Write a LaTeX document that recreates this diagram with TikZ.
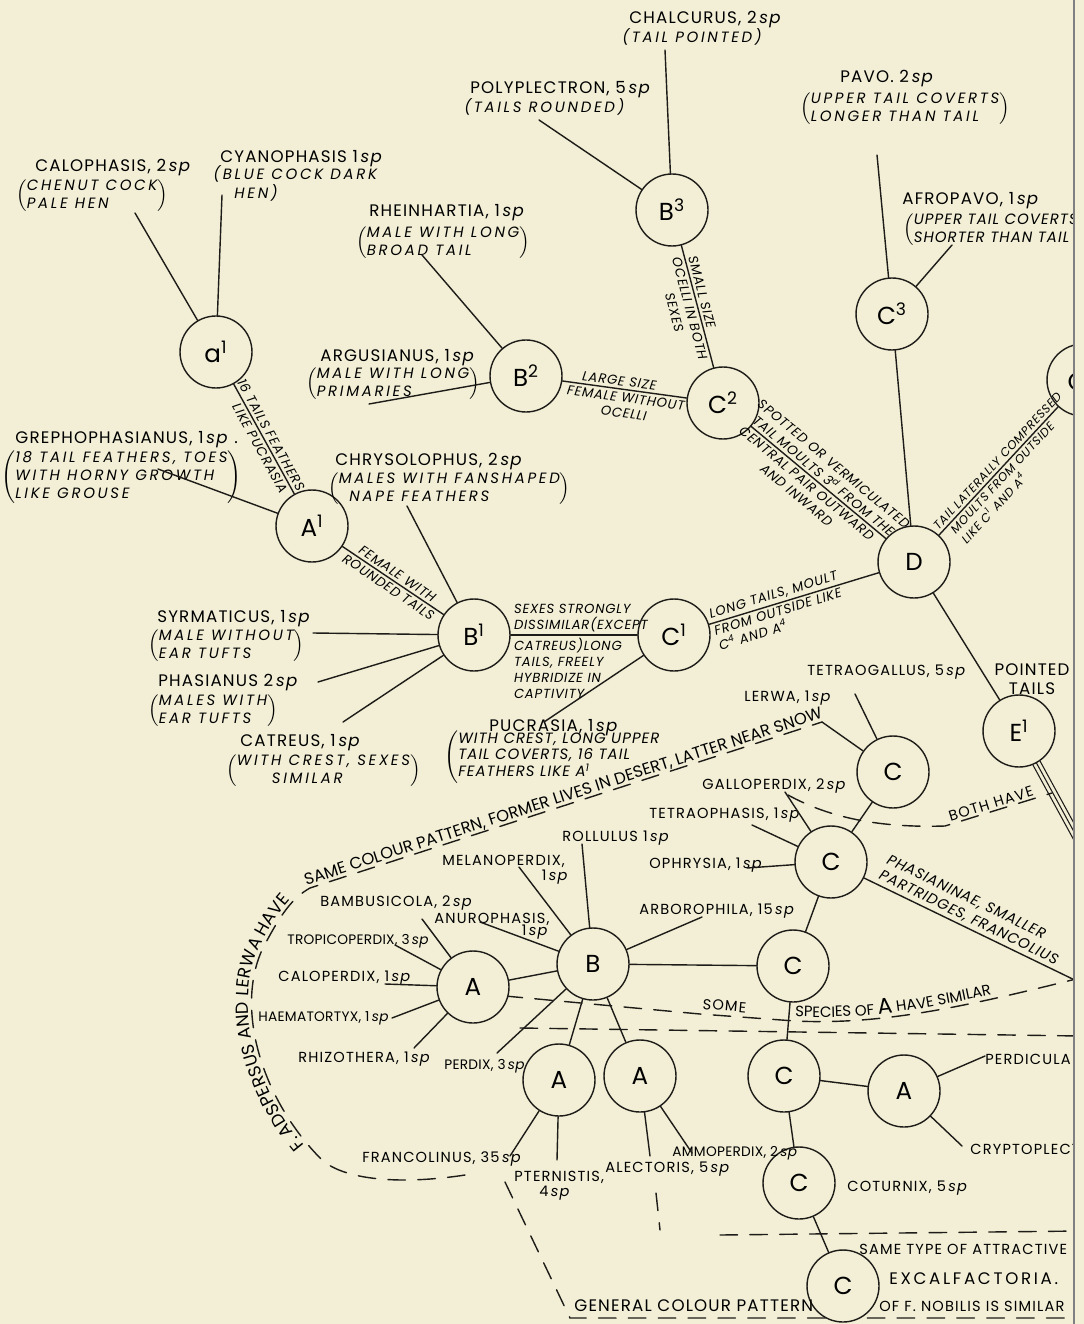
\documentclass[tikz,border=0pt]{standalone}
\usepackage{fontspec}
\setmainfont{Poppins}
\newfontfamily\genusfont{Poppins}[LetterSpace=7]
\newfontfamily\smallgenusfont{Poppins}[LetterSpace=8]
\newfontfamily\tightfont{Poppins}[LetterSpace=2]
\newfontfamily\widefont{Poppins}[LetterSpace=16]
\newfontfamily\descfont{Poppins}[LetterSpace=18]
\newfontfamily\notefont{Poppins}[LetterSpace=6]
\usetikzlibrary{decorations.text}

\definecolor{paper}{RGB}{242,239,214}
\definecolor{ink}{RGB}{30,28,24}

\delimiterfactor=850
\delimitershortfall=3pt
\newcommand{\nsp}[1]{#1\,\textit{sp}}
\newcommand{\paren}[1]{$\left(\begin{tabular}{@{}l@{}}#1\end{tabular}\right)$}
\newcommand{\lparen}[1]{$\left(\begin{tabular}{@{}l@{}}#1\end{tabular}\right.$}

\tikzset{
  taxon/.style={circle,draw=ink,fill=paper,line width=0.8pt,minimum size=1.44cm,inner sep=0pt,
    font=\fontsize{14}{14}\selectfont},
  genus/.style={inner sep=0pt,anchor=base west,font=\genusfont\fontsize{9.5}{11}\selectfont},
  genusS/.style={inner sep=0pt,anchor=base west,font=\smallgenusfont\fontsize{8.3}{9.5}\selectfont},
  genusT/.style={inner sep=0pt,anchor=base west,font=\tightfont\fontsize{7.8}{9.5}\selectfont},
  desc/.style={inner sep=0pt,anchor=west,font=\descfont\itshape\fontsize{8.5}{10}\selectfont},
  note/.style={inner sep=1.5pt,sloped,font=\notefont\itshape\fontsize{7.5}{9}\selectfont},
  link/.style={draw=ink,line width=0.8pt},
  dashline/.style={draw=ink,line width=0.8pt,dash pattern=on 10pt off 7pt},
}

\begin{document}
\begin{tikzpicture}[x=0.02cm,y=-0.02cm,line cap=round]
\useasboundingbox (0,0) rectangle (1084,1324);
\fill[paper] (0,0) rectangle (1084,1324);
\begin{scope}
\clip (0,0) rectangle (1074,1324);

% dashed boundaries and the texts along them
\draw[dashline] (465,1175) .. controls (400,1185) and (345,1180) .. (322,1160)
  .. controls (262,1100) and (235,1010) .. (262,950)
  .. controls (280,915) and (292,898) .. (310,888) -- (822,722);
\path[decorate,decoration={text along path,raise=2pt,text align=center,
  text={|\fontsize{10}{11}\selectfont|F. ADSPERSUS AND LERWA HAVE}}]
  (322,1160) .. controls (262,1100) and (235,1010) .. (262,950)
  .. controls (280,915) and (292,898) .. (310,888);
\path[decorate,decoration={text along path,raise=2pt,text align=center,
  text={|\fontsize{9.3}{11}\selectfont|SAME COLOUR PATTERN, FORMER LIVES IN DESERT, LATTER NEAR SNOW}}]
  (310,888) -- (822,722);
\draw[dashline] (505,996) -- (700,1014) -- (795,1021) .. controls (880,1025) and (960,1008) .. (1080,978);
\path[decorate,decoration={text along path,raise=2.5pt,
  text={|\fontsize{8.5}{10}\selectfont|SPECIES OF |\fontsize{12.5}{12}\selectfont|A|\fontsize{8.5}{10}\selectfont| HAVE SIMILAR}}]
  (795,1021) .. controls (880,1025) and (960,1008) .. (1080,978);
\draw[dashline] (520,1028) -- (1080,1036);
\draw[dashline] (788,795) .. controls (830,818) and (880,828) .. (945,826)
  -- node[genusS,anchor=south,sloped,pos=0.45,inner sep=1pt] {BOTH HAVE} (1052,793);
\draw[dashline] (505,1182) -- (570,1318) -- (1068,1318);
\draw[dashline] (656,1193) -- (660,1230);
\draw[dashline] (720,1235) -- (1080,1231);

% circles
\node[taxon] (a1) at (216,352) {a\textsuperscript{1}};
\node[taxon] (A1) at (312,526) {A\textsuperscript{1}};
\node[taxon] (B1) at (474,635) {B\textsuperscript{1}};
\node[taxon] (B2) at (526,376) {B\textsuperscript{2}};
\node[taxon] (B3) at (672,210) {B\textsuperscript{3}};
\node[taxon] (C1) at (674,635) {C\textsuperscript{1}};
\node[taxon] (C2) at (723,403) {C\textsuperscript{2}};
\node[taxon] (C3) at (892,314) {C\textsuperscript{3}};
\node[taxon] (C4) at (1083,380) {C\textsuperscript{4}};
\node[taxon] (D) at (914,562) {D};
\node[taxon] (E1) at (1019,731) {E\textsuperscript{1}};
\node[taxon] (Cl) at (893,772) {C};
\node[taxon] (Cc) at (831,862) {C};
\node[taxon] (Ca) at (793,966) {C};
\node[taxon] (B) at (593,964) {B};
\node[taxon] (Al) at (473,987) {A};
\node[taxon] (Apt) at (559,1080) {A};
\node[taxon] (Aal) at (640,1076) {A};
\node[taxon] (Cb) at (784,1076) {C};
\node[taxon] (Ap) at (904,1091) {A};
\node[taxon] (Cco) at (799,1183) {C};
\node[taxon] (Cex) at (843,1286) {C};

% genera, upper part
\node[genus] (calophasis) at (35,172) {CALOPHASIS, \nsp{2}};
\node[desc] (calophasisD) at (16,196) {\paren{CHENUT COCK\\PALE HEN}};
\node[genus] (cyanophasis) at (220,163) {CYANOPHASIS \nsp{1}};
\node[desc] (cyanophasisD) at (213,185) {\begin{tabular}{@{}l@{}}(BLUE COCK DARK\\\hspace*{12pt}HEN)\end{tabular}};
\node[genus] (chalcurus) at (629,24) {CHALCURUS, \nsp{2}};
\node[desc,anchor=base west] (chalcurusD) at (622,43) {(TAIL POINTED)};
\node[genus] (polyplectron) at (470,94) {POLYPLECTRON, \nsp{5}};
\node[desc,anchor=base west] (polyplectronD) at (464,113) {(TAILS ROUNDED)};
\node[genus] (pavo) at (840,83) {PAVO. \nsp{2}};
\node[desc] (pavoD) at (800,109) {\paren{UPPER TAIL COVERTS\\LONGER THAN TAIL}};
\node[genus] (afropavo) at (902,205) {AFROPAVO, \nsp{1}};
\node[desc,font=\genusfont\itshape\fontsize{8.5}{10}\selectfont] (afropavoD) at (903,230) {\paren{UPPER TAIL COVERTS\\SHORTER THAN TAIL}};
\node[genus] (rheinhartia) at (369,217) {RHEINHARTIA, \nsp{1}};
\node[desc] (rheinhartiaD) at (356,243) {\paren{MALE WITH LONG\\BROAD TAIL}};
\node[genus] (argusianus) at (320,361) {ARGUSIANUS, \nsp{1}};
\node[desc] (argusianusD) at (306,384) {\paren{MALE WITH LONG\\PRIMARIES}};
\node[genus] (grepho) at (15,443) {GREPHOPHASIANUS, \nsp{1} .};
\node[desc] (grephoD) at (1,477) {\paren{18 TAIL FEATHERS, TOES\\WITH HORNY GROWTH\\LIKE GROUSE}};
\node[genus] (chrysolophus) at (335,465) {CHRYSOLOPHUS, \nsp{2}};
\node[desc] (chrysolophusD) at (328,489) {\paren{MALES WITH FANSHAPED\\\hspace*{6pt}NAPE FEATHERS}};
\node[genus] (syrmaticus) at (157,622) {SYRMATICUS, \nsp{1}};
\node[desc] (syrmaticusD) at (148,646) {\paren{MALE WITHOUT\\EAR TUFTS}};
\node[genus] (phasianus) at (158,686) {PHASIANUS \nsp{2}};
\node[desc] (phasianusD) at (148,711) {\paren{MALES WITH\\EAR TUFTS}};
\node[genus] (catreus) at (240,746) {CATREUS, \nsp{1}};
\node[desc] (catreusD) at (226,771) {\paren{WITH CREST, SEXES\\\hspace*{20pt}SIMILAR}};
\node[genus] (pucrasia) at (489,731) {PUCRASIA, \nsp{1}};
\node[desc,font=\genusfont\itshape\fontsize{8.5}{8.8}\selectfont] (pucrasiaD) at (444,757) {\lparen{WITH CREST, LONG UPPER\\TAIL COVERTS, 16 TAIL\\FEATHERS LIKE A\textsuperscript{1}}};
\node[genusS] (tetraogallus) at (807,675) {TETRAOGALLUS, \nsp{5}};
\node[genus,anchor=center,align=center] (pointed) at (1032,679) {POINTED\\TAILS};

% genera, lower part
\node[genusS] (lerwa) at (744,701) {LERWA, \nsp{1}};
\node[genusS] (galloperdix) at (702,789) {GALLOPERDIX, \nsp{2}};
\node[genusS] (tetraophasis) at (649,818) {TETRAOPHASIS, \nsp{1}};
\node[genusS] (rollulus) at (562,841) {ROLLULUS \nsp{1}};
\node[genusS] (ophrysia) at (649,868) {OPHRYSIA, \nsp{1}};
\node[genusS] (melanoperdix) at (442,865) {MELANOPERDIX,};
\node[genusS,anchor=base east] (melanoperdixN) at (569,880) {\nsp{1}};
\node[genusS] (bambusicola) at (320,906) {BAMBUSICOLA, \nsp{2}};
\node[genusS] (anurophasis) at (434,923) {ANUROPHASIS,};
\node[genusS,anchor=base east] (anurophasisN) at (549,935) {\nsp{1}};
\node[genusS] (arborophila) at (639,914) {ARBOROPHILA, \nsp{15}};
\node[genusT] (tropicoperdix) at (287,944) {TROPICOPERDIX, \nsp{3}};
\node[genusS] (caloperdix) at (278,981) {CALOPERDIX, \nsp{1}};
\node[genusT] (haematortyx) at (258,1021) {HAEMATORTYX, \nsp{1}};
\node[genusS] (rhizothera) at (298,1062) {RHIZOTHERA, \nsp{1}};
\node[genusT] (perdix) at (444,1069) {PERDIX, \nsp{3}};
\node[genusS] (francolinus) at (362,1162) {FRANCOLINUS, \nsp{35}};
\node[genusS] (pternistis) at (514,1181) {PTERNISTIS,};
\node[genusS] (pternistisN) at (539,1196) {\nsp{4}};
\node[genusS] (alectoris) at (605,1172) {ALECTORIS, \nsp{5}};
\node[genusT] (ammoperdix) at (672,1156) {AMMOPERDIX, \nsp{2}};
\node[genusS] (perdicula) at (985,1064) {PERDICULA};
\node[genusS] (cryptoplectron) at (970,1154) {CRYPTOPLECTRON};
\node[genusS] (coturnix) at (847,1191) {COTURNIX, \nsp{5}};
\node[genusS,rotate=-5] (some) at (702,1009) {SOME};
\node[genusS] (sametype) at (859,1254) {SAME TYPE OF ATTRACTIVE};
\node[genus,font=\widefont\fontsize{9.5}{11}\selectfont] (excalfactoria) at (889,1284) {EXCALFACTORIA.};
\node[genusS] (nobilis) at (879,1311) {OF F. NOBILIS IS SIMILAR};
\node[genus] (general) at (574,1311) {GENERAL COLOUR PATTERN};

% free ends of the genus lines
\coordinate (calE) at (135,213);
\coordinate (cyaE) at (222,195);
\coordinate (greE) at (158,469);
\coordinate (rheE) at (422,255);
\coordinate (argE) at (369,404);
\coordinate (polE) at (539,120);
\coordinate (chaE) at (665,50);
\coordinate (pavE) at (877,155);
\coordinate (afrE) at (952,245);
\coordinate (chrE) at (407,506);
\coordinate (syrE) at (313,633);
\coordinate (phaE) at (318,682);
\coordinate (catE) at (343,722);
\coordinate (pucE) at (544,722);
\coordinate (lerE) at (855,694);
\coordinate (snowE) at (822,722);
\coordinate (galE) at (785,792);
\coordinate (tetE) at (752,825);
\coordinate (ophE) at (747,868);
\coordinate (arbE) at (702,917);
\coordinate (rolE) at (582,844);
\coordinate (melE) at (519,867);
\coordinate (anuE) at (480,922);
\coordinate (bamE) at (422,919);
\coordinate (troE) at (395,945);
\coordinate (calpE) at (385,984);
\coordinate (haeE) at (392,1018);
\coordinate (rhiE) at (414,1048);
\coordinate (perE) at (497,1053);
\coordinate (fraE) at (510,1156);
\coordinate (pteE) at (557,1160);
\coordinate (aleE) at (650,1156);
\coordinate (ammE) at (692,1153);
\coordinate (perdE) at (985,1056);
\coordinate (cryE) at (962,1146);
\coordinate (phasE) at (1085,985);
\coordinate (e1E) at (1085,852);

\begin{scope}[every edge/.style={draw=ink,line width=0.8pt}]
  \path (calE) edge (a1);
  \path (cyaE) edge (a1);
  \path (greE) edge (A1);
  \path (rheE) edge (B2);
  \path (argE) edge (B2);
  \path (polE) edge (B3);
  \path (chaE) edge (B3);
  \path (pavE) edge (C3);
  \path (afrE) edge (C3);
  \path (chrE) edge (B1);
  \path (syrE) edge (B1);
  \path (phaE) edge (B1);
  \path (catE) edge (B1);
  \path (pucE) edge (C1);
  \path (C3) edge (D);
  \path (D) edge (E1);
  \path (lerE) edge (Cl);
  \path (snowE) edge (Cl);
  \path (Cl) edge (Cc);
  \path (galE) edge (Cc);
  \path (tetE) edge (Cc);
  \path (ophE) edge (Cc);
  \path (Cc) edge (Ca);
  \path (arbE) edge (B);
  \path (rolE) edge (B);
  \path (melE) edge (B);
  \path (anuE) edge (B);
  \path (perE) edge (B);
  \path (B) edge (Ca);
  \path (B) edge (Al);
  \path (B) edge (Apt);
  \path (B) edge (Aal);
  \path (bamE) edge (Al);
  \path (troE) edge (Al);
  \path (calpE) edge (Al);
  \path (haeE) edge (Al);
  \path (rhiE) edge (Al);
  \path (fraE) edge (Apt);
  \path (pteE) edge (Apt);
  \path (aleE) edge (Aal);
  \path (ammE) edge (Aal);
  \path (Ca) edge (Cb);
  \path (Cb) edge (Ap);
  \path (perdE) edge (Ap);
  \path (cryE) edge (Ap);
  \path (Cb) edge (Cco);
  \path (Cco) edge (Cex);
\end{scope}

% labelled branches
\draw[link] (a1) -- (A1) node[note,midway,above]{16 TAILS FEATHERS} node[note,pos=0.55,below]{LIKE PUCRASIA};
\draw[link] (A1) -- (B1) node[note,midway,above]{FEMALE WITH} node[note,midway,below]{ROUNDED TAILS};
\draw[link] (B2) -- (C2) node[note,pos=0.45,above]{LARGE SIZE}
  node[note,pos=0.52,below,align=center]{FEMALE WITHOUT\\OCELLI};
\draw[link] (B3) -- (C2) node[note,pos=0.4,above]{SMALL SIZE}
  node[note,midway,below,align=center]{OCELLI IN BOTH\\SEXES};
\draw[link] (C2) -- (D) node[note,midway,above,align=center]{SPOTTED OR VERMICULATED\\TAIL MOULTS 3\textsuperscript{d} FROM THE}
  node[note,pos=0.45,below,align=center]{CENTRAL PAIR OUTWARD\\AND INWARD};
\draw[link] (D) -- (C4) node[note,pos=0,anchor=south west,font=\notefont\itshape\fontsize{6.8}{8.5}\selectfont]{TAIL LATERALLY COMPRESSED}
  node[note,pos=0.05,anchor=north west,align=left,font=\notefont\itshape\fontsize{6.8}{8.5}\selectfont]{MOULTS FROM OUTSIDE\\LIKE C\textsuperscript{1} AND A\textsuperscript{4}};
\draw[link] (C1) -- (D) node[note,pos=0,anchor=south west]{LONG TAILS, MOULT}
  node[note,pos=0,anchor=north west,align=left]{FROM OUTSIDE LIKE\\C\textsuperscript{4} AND A\textsuperscript{4}};
\draw[link] (B1) -- (C1) node[note,pos=0,anchor=south west,align=left]{SEXES STRONGLY\\DISSIMILAR(EXCEPT}
  node[note,pos=0,anchor=north west,align=left]{CATREUS)LONG\\TAILS, FREELY\\HYBRIDIZE IN\\CAPTIVITY};
\draw[link] (Cc) -- (phasE) node[note,pos=0.04,anchor=south west,align=left,font=\notefont\itshape\fontsize{8.3}{10}\selectfont]{PHASIANINAE, SMALLER\\PARTRIDGES, FRANCOLIUS};
\foreach \s in {-1,0,1}
  \draw[link,line width=0.6pt,transform canvas={shift={(3.6*\s,-1.9*\s)}}] (E1) -- (e1E);
\end{scope}

% edge of the page
\draw[gray,line width=0.6pt] (1074,0) -- (1074,1324);
\end{tikzpicture}
\end{document}
